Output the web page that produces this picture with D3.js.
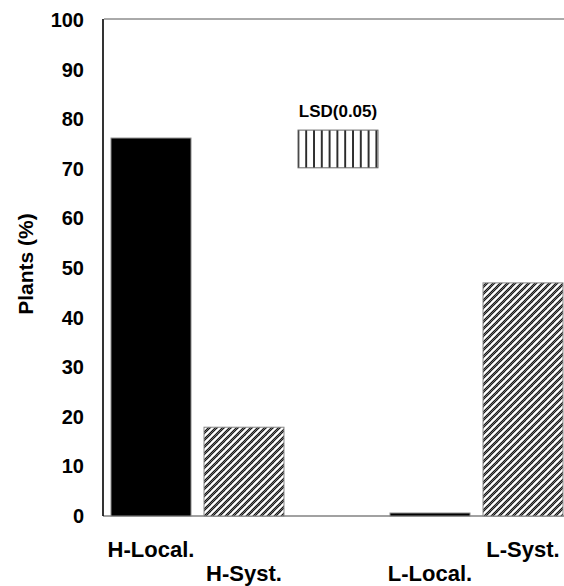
<!DOCTYPE html>
<html>
<head>
<meta charset="utf-8">
<script src="https://cdn.jsdelivr.net/npm/d3@7"></script>
<style>
  body { margin: 0; background: #fff; }
  svg text { font-family: Arial, "Liberation Sans", sans-serif; font-weight: bold; fill: #000; }
</style>
</head>
<body>
<div id="chart"></div>
<script>
// data
var categories = ["H-Local.", "H-Syst.", "gap", "L-Local.", "L-Syst."];
var barLabels = ["H-Local.", "H-Syst.", "L-Local.", "L-Syst."];
var barValues = [76.2, 17.9, 0.6, 47.0];
var barFills = ["solid", "hatch", "solid", "hatch"];
var labelRow = [0, 1, 1, 0];
var yTicks = [0, 10, 20, 30, 40, 50, 60, 70, 80, 90, 100];
var lsdBase = 70.2;
var lsdValue = 7.6;

var width = 564,
    height = 586;

var svg = d3.select("#chart").append("svg")
    .attr("width", width)
    .attr("height", height);

var defs = svg.append("defs");

// diagonal hatch for the "Syst." bars
var diag = defs.append("pattern")
    .attr("id", "diag")
    .attr("patternUnits", "userSpaceOnUse")
    .attr("width", 7)
    .attr("height", 7);
diag.append("rect").attr("width", 7).attr("height", 7).attr("fill", "#fff");
[[-1, 8, 8, -1], [-8, 8, 1, -1], [6, 8, 15, -1]].forEach(function (p) {
    diag.append("line")
        .attr("x1", p[0]).attr("y1", p[1]).attr("x2", p[2]).attr("y2", p[3])
        .attr("stroke", "#111").attr("stroke-width", 2.4);
    diag.append("line")
        .attr("x1", p[0]).attr("y1", p[1]).attr("x2", p[2]).attr("y2", p[3])
        .attr("stroke", "#aaa").attr("stroke-width", 0.6);
});

// vertical stripes for the LSD box
var vert = defs.append("pattern")
    .attr("id", "vert")
    .attr("patternUnits", "userSpaceOnUse")
    .attr("x", 1)
    .attr("width", 7.8)
    .attr("height", 10);
vert.append("rect").attr("width", 7.8).attr("height", 10).attr("fill", "#fff");
vert.append("line")
    .attr("x1", 1).attr("x2", 1).attr("y1", 0).attr("y2", 10)
    .attr("stroke", "#000").attr("stroke-width", 1.6);

var xScale = d3.scaleBand()
    .domain(categories)
    .range([104.5, 569.5])
    .paddingInner(0.14)
    .paddingOuter(0.07);

var yScale = d3.scaleLinear()
    .domain([0, 100])
    .range([516, 20]);

var g = svg.append("g");

// frame lines
g.append("line")
    .attr("x1", 104).attr("x2", width)
    .attr("y1", yScale(100) - 1).attr("y2", yScale(100) - 1)
    .attr("stroke", "#555").attr("stroke-width", 1);

g.append("line")
    .attr("x1", 103).attr("x2", width)
    .attr("y1", yScale(0)).attr("y2", yScale(0))
    .attr("stroke", "#444").attr("stroke-width", 1.2);

// y axis
var yAxis = g.append("g")
    .attr("class", "y axis")
    .attr("transform", "translate(103,0)")
    .call(d3.axisLeft(yScale).tickValues(yTicks).tickSize(0).tickPadding(19));
yAxis.select(".domain")
    .attr("d", "M0," + (yScale(100) - 1) + "V" + yScale(0))
    .attr("stroke", "#000").attr("stroke-width", 1.6);
yAxis.selectAll("text")
    .style("font-size", "20px")
    .style("font-family", "Arial, 'Liberation Sans', sans-serif")
    .style("font-weight", "bold");

svg.append("text")
    .attr("transform", "translate(33,264) rotate(-90)")
    .attr("text-anchor", "middle")
    .style("font-size", "21px")
    .text("Plants (%)");

// bars
var barData = barLabels.map(function (d, i) {
    return { key: d, value: barValues[i], fill: barFills[i], row: labelRow[i] };
});

g.selectAll(".bar")
    .data(barData)
    .enter().append("rect")
    .attr("class", "bar")
    .attr("x", function (d) { return xScale(d.key); })
    .attr("y", function (d) { return yScale(d.value); })
    .attr("width", xScale.bandwidth())
    .attr("height", function (d) { return yScale(0) - yScale(d.value); })
    .attr("fill", function (d) { return d.fill === "solid" ? "#000" : "url(#diag)"; })
    .attr("stroke", "#888")
    .attr("stroke-width", 1);

// category labels, staggered in two rows
g.selectAll(".xlabel")
    .data(barData)
    .enter().append("text")
    .attr("class", "xlabel")
    .attr("x", function (d) { return xScale(d.key) + xScale.bandwidth() / 2; })
    .attr("y", function (d) { return d.row === 0 ? 557 : 581; })
    .attr("text-anchor", "middle")
    .style("font-size", "22px")
    .text(function (d) { return d.key; });

// LSD box in the empty slot
g.append("rect")
    .attr("x", xScale("gap") + 1)
    .attr("y", yScale(lsdBase + lsdValue))
    .attr("width", xScale.bandwidth())
    .attr("height", yScale(lsdBase) - yScale(lsdBase + lsdValue))
    .attr("fill", "url(#vert)")
    .attr("stroke", "#666")
    .attr("stroke-width", 1);

g.append("text")
    .attr("x", xScale("gap") + xScale.bandwidth() / 2 + 1)
    .attr("y", 117)
    .attr("text-anchor", "middle")
    .style("font-size", "17px")
    .text("LSD(0.05)");
</script>
</body>
</html>
